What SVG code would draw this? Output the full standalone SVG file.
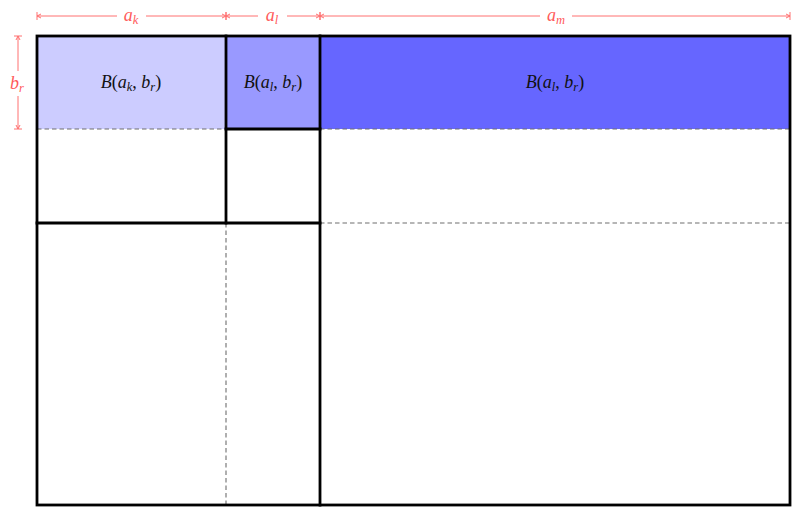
<svg xmlns="http://www.w3.org/2000/svg" width="800" height="515" viewBox="0 0 800 515">
<style>
.thick{fill:none;stroke:#000;stroke-width:2.8;stroke-linecap:square}
.dash{fill:none;stroke:#6e6e6e;stroke-width:1.1;stroke-dasharray:4.5,3}
.dim{fill:none;stroke:#ff7070;stroke-width:1}
.dtxt{font-family:"Liberation Serif","DejaVu Serif",serif;font-style:italic;font-size:18px;fill:#ff5a5a;text-anchor:middle}
.lbl{font-family:"Liberation Serif","DejaVu Serif",serif;font-size:18px;fill:#111;text-anchor:middle}
.it{font-style:italic}
.sub{font-size:12.5px;font-style:italic}
</style>
<defs>
<marker id="arrS" viewBox="0 0 10 10" refX="1" refY="5" markerWidth="10" markerHeight="10" markerUnits="userSpaceOnUse" orient="auto">
<path d="M1,1 L1,9 M5,3 L1,5 L5,7" fill="none" stroke="#ff7070" stroke-width="1"/>
</marker>
<marker id="arrE" viewBox="0 0 10 10" refX="9" refY="5" markerWidth="10" markerHeight="10" markerUnits="userSpaceOnUse" orient="auto">
<path d="M9,1 L9,9 M5,3 L9,5 L5,7" fill="none" stroke="#ff7070" stroke-width="1"/>
</marker>
</defs>
<rect width="800" height="515" fill="#fff"/>
<g id="block-ak">
<rect x="37" y="36" width="189" height="93" fill="#ccccff"/>
<text class="lbl" x="131" y="88"><tspan class="it">B</tspan>(<tspan class="it">a</tspan><tspan class="sub" dy="3">k</tspan><tspan dy="-3">, </tspan><tspan class="it">b</tspan><tspan class="sub" dy="3">r</tspan><tspan dy="-3">)</tspan></text>
</g>
<g id="block-al">
<rect x="226" y="36" width="94" height="93" fill="#9999ff"/>
<text class="lbl" x="273" y="88"><tspan class="it">B</tspan>(<tspan class="it">a</tspan><tspan class="sub" dy="3">l</tspan><tspan dy="-3">, </tspan><tspan class="it">b</tspan><tspan class="sub" dy="3">r</tspan><tspan dy="-3">)</tspan></text>
</g>
<g id="block-am">
<rect x="320" y="36" width="470" height="93" fill="#6666ff"/>
<text class="lbl" x="555" y="88"><tspan class="it">B</tspan>(<tspan class="it">a</tspan><tspan class="sub" dy="3">l</tspan><tspan dy="-3">, </tspan><tspan class="it">b</tspan><tspan class="sub" dy="3">r</tspan><tspan dy="-3">)</tspan></text>
</g>
<g id="grid">
<line class="dash" x1="37" y1="129" x2="226" y2="129"/>
<line class="dash" x1="320" y1="129" x2="790" y2="129"/>
<line class="dash" x1="320" y1="223" x2="790" y2="223"/>
<line class="dash" x1="226" y1="223" x2="226" y2="505"/>
<rect class="thick" x="37" y="36" width="753" height="469"/>
<line class="thick" x1="226" y1="36" x2="226" y2="223"/>
<line class="thick" x1="320" y1="36" x2="320" y2="505"/>
<line class="thick" x1="226" y1="129" x2="320" y2="129"/>
<line class="thick" x1="37" y1="223" x2="320" y2="223"/>
</g>
<g id="dimensions">
<line class="dim" x1="37" y1="16" x2="117" y2="16" marker-start="url(#arrS)"/>
<line class="dim" x1="146" y1="16" x2="226" y2="16" marker-end="url(#arrE)"/>
<text class="dtxt" x="131" y="21">a<tspan class="sub" dy="3">k</tspan></text>
<line class="dim" x1="226" y1="16" x2="258" y2="16" marker-start="url(#arrS)"/>
<line class="dim" x1="287" y1="16" x2="320" y2="16" marker-end="url(#arrE)"/>
<text class="dtxt" x="272" y="21">a<tspan class="sub" dy="3">l</tspan></text>
<line class="dim" x1="320" y1="16" x2="540" y2="16" marker-start="url(#arrS)"/>
<line class="dim" x1="572" y1="16" x2="790" y2="16" marker-end="url(#arrE)"/>
<text class="dtxt" x="556" y="21">a<tspan class="sub" dy="3">m</tspan></text>
<line class="dim" x1="18" y1="36" x2="18" y2="71" marker-start="url(#arrS)"/>
<line class="dim" x1="18" y1="96" x2="18" y2="129" marker-end="url(#arrE)"/>
<text class="dtxt" x="17" y="89">b<tspan class="sub" dy="3">r</tspan></text>
</g>
</svg>
